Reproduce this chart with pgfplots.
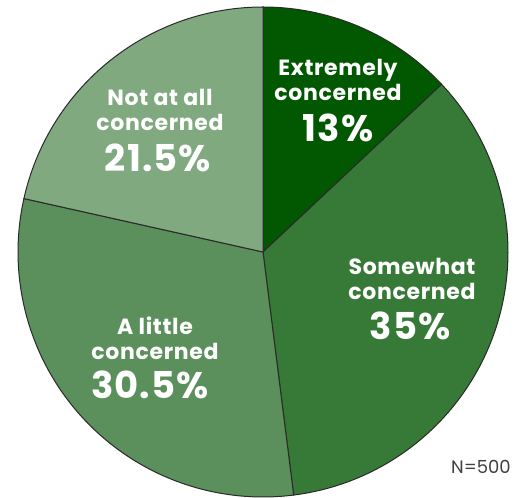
\documentclass[border=0pt]{standalone}
\usepackage{pgfplots}
\pgfplotsset{compat=1.18}
\usepackage{fontspec}
\setmainfont{Poppins}
\newfontfamily\widefont{Poppins}[LetterSpace=3]
\definecolor{cA}{HTML}{015801}
\definecolor{cB}{HTML}{377A37}
\definecolor{cC}{HTML}{5B8F5B}
\definecolor{cD}{HTML}{80A980}
\definecolor{edge}{HTML}{2A2A2A}
% shares (percent)
\def\pA{13}
\def\pB{35}
\def\pC{30.5}
\def\pD{21.5}
\begin{document}
\begin{tikzpicture}
\begin{axis}[scale only axis, width=516bp, height=498bp,
  xmin=0, xmax=516, ymin=0, ymax=498, axis lines=none, clip=false]
\addplot[fill=cA, draw=edge, line width=1bp, domain={90-3.6*(\pA)}:90, samples=60, variable=\t]
  ({263+245*cos(\t)},{246+245*sin(\t)}) -- (axis cs:263,246) -- cycle;
\addplot[fill=cB, draw=edge, line width=1bp, domain={90-3.6*(\pA+\pB)}:{90-3.6*(\pA)}, samples=100, variable=\t]
  ({263+245*cos(\t)},{246+245*sin(\t)}) -- (axis cs:263,246) -- cycle;
\addplot[fill=cC, draw=edge, line width=1bp, domain={90-3.6*(\pA+\pB+\pC)}:{90-3.6*(\pA+\pB)}, samples=100, variable=\t]
  ({263+245*cos(\t)},{246+245*sin(\t)}) -- (axis cs:263,246) -- cycle;
\addplot[fill=cD, draw=edge, line width=1bp, domain={90-3.6*(\pA+\pB+\pC+\pD)}:{90-3.6*(\pA+\pB+\pC)}, samples=80, variable=\t]
  ({263+245*cos(\t)},{246+245*sin(\t)}) -- (axis cs:263,246) -- cycle;
\tikzset{lab/.style={text=white, font=\widefont\fontsize{22bp}{25bp}\selectfont\bfseries, align=center},
         pct/.style={text=white, font=\widefont\fontsize{37bp}{40bp}\selectfont\bfseries}}
\node[lab] at (axis cs:338,{498-80}) {Extremely\\concerned};
\node[pct] at (axis cs:338,{498-128}) {13\%};
\node[lab] at (axis cs:412,{498-279}) {Somewhat\\concerned};
\node[pct] at (axis cs:410,{498-326}) {35\%};
\node[lab] at (axis cs:155,{498-338}) {A little\\concerned};
\node[pct] at (axis cs:150,{498-385}) {30.5\%};
\node[lab] at (axis cs:160,{498-110}) {Not at all\\concerned};
\node[pct] at (axis cs:158,{498-158}) {21.5\%};
\node[text=black!75, font=\fontsize{18bp}{20bp}\selectfont] at (axis cs:481,{498-467}) {N=500};
\end{axis}
\pgfresetboundingbox
\path[use as bounding box] (0,0) rectangle (516bp,498bp);
\end{tikzpicture}
\end{document}
